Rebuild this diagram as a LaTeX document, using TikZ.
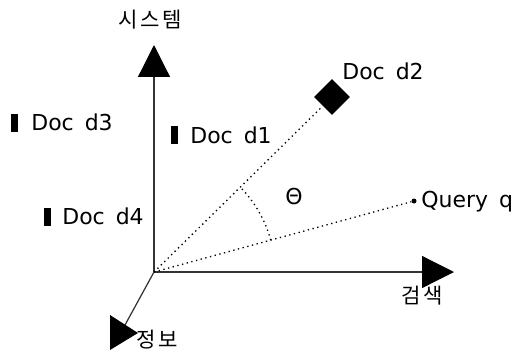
\documentclass[tikz,border=0pt]{standalone}
\usepackage{fontspec}
\setmainfont{DejaVu Sans}
\newfontfamily\kor[LetterSpace=12]{Noto Sans CJK KR}
\usetikzlibrary{arrows.meta, shapes.geometric}

\begin{document}
\begin{tikzpicture}[x=0.02cm, y=0.02cm, font=\fontsize{12.5}{15}\selectfont,
  axis/.style={draw=black!80, line width=0.7pt},
  bighead/.style={-{Triangle[length=0.64cm, width=0.64cm, color=black, fill=black]}},
  proj/.style={dotted, line width=0.75pt},
  docmark/.style={fill=black, inner sep=0pt, minimum width=0.14cm, minimum height=0.36cm},
  doclabel/.style={anchor=base west, inner sep=0pt},
  hangul/.style={font=\kor\fontsize{12}{14}\selectfont}]
  \useasboundingbox (0,0) rectangle (514,353);
  \coordinate (o) at (154,81);
  \coordinate (ytip) at (154,308);
  \coordinate (xtip) at (454,81);
  \coordinate (zend) at (125,28);
  % axes
  \draw[axis, bighead] (o) -- (ytip);
  \draw[axis, bighead] (o) -- (xtip);
  \draw[axis] (o) -- (zend);
  \fill (110,38) -- (110,3) -- (138,20) -- cycle;
  \node[hangul] (sys) at (150,333) {시스템};
  \node[hangul] (ret) at (422,57) {검색};
  \node[hangul] (info) at (157,13) {정보};
  % documents
  \node[docmark] (m3) at (14.5,230) {};
  \node[doclabel] (d3) at (31,223) {Doc\enspace d3};
  \node[docmark] (m1) at (174.5,218) {};
  \node[doclabel] (d1) at (190,210) {Doc\enspace d1};
  \node[docmark] (m4) at (47.5,136) {};
  \node[doclabel] (d4) at (62,129) {Doc\enspace d4};
  \node[diamond, fill=black, inner sep=0pt, minimum size=0.72cm] (d2) at (332,256) {};
  \node[doclabel] (t2) at (342,274) {Doc\enspace d2};
  % query and angle
  \node[circle, fill=black, inner sep=0pt, minimum size=0.1cm] (q) at (414,152) {};
  \node[doclabel] (tq) at (421,146) {Query\enspace q};
  \draw[proj] (o) -- (d2);
  \draw[proj] (o) -- (q);
  \draw[proj] ([shift={(15.3:121)}]o) arc[start angle=15.3, end angle=44.5, radius=121];
  \node (theta) at (294,157) {Θ};
\end{tikzpicture}
\end{document}
